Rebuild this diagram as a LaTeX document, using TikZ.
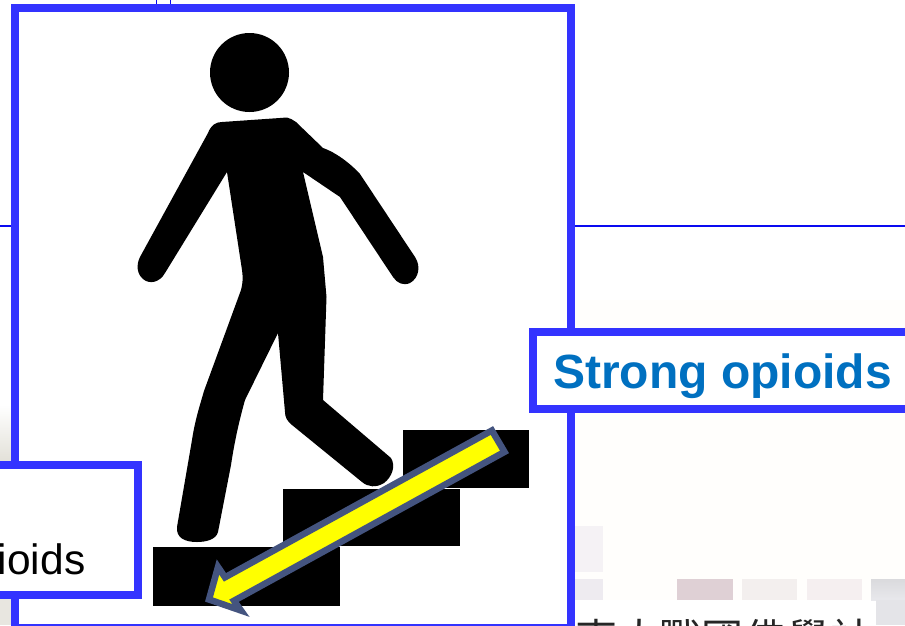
\documentclass[tikz,border=0pt]{standalone}
\usepackage{fontspec}
\setmainfont{Liberation Sans}
\newfontfamily\cjkfont{Noto Sans CJK TC}
\definecolor{boxblue}{HTML}{3333FF}
\definecolor{ruleblue}{HTML}{0A0AF0}
\definecolor{labelblue}{HTML}{0070C0}
\definecolor{arrowedge}{HTML}{44547F}
\definecolor{arrowfill}{HTML}{FFFF00}
\definecolor{cream}{HTML}{FFFEFC}
\definecolor{tintA}{HTML}{F5F2F5}
\definecolor{tintB}{HTML}{EEEBF0}
\definecolor{tintC}{HTML}{DFD0D5}
\definecolor{tintD}{HTML}{F3EFEE}
\definecolor{tintE}{HTML}{F5EFF0}
\definecolor{tintF}{HTML}{DADADD}
\definecolor{tintG}{HTML}{E8E8EC}
\definecolor{tintH}{HTML}{E4E4E8}
\definecolor{photoA}{HTML}{E2E0D8}
\definecolor{photoB}{HTML}{E8E6E0}
\tikzset{
  panel/.style={draw=boxblue,line width=8pt,fill=white,rectangle,inner sep=0pt,outer sep=0pt,anchor=north west},
  guide/.style={draw=ruleblue,line width=1.7pt},
  tick/.style={draw=ruleblue,line width=1pt},
  stair/.style={fill=black,draw=none},
  strong/.style={font=\fontsize{48}{48}\selectfont\bfseries,text=labelblue,anchor=base west,inner sep=0pt},
  weak/.style={font=\fontsize{42.5}{42.5}\selectfont,text=black,anchor=base east,inner sep=0pt},
  faded/.style={font=\fontsize{42}{42}\cjkfont,text=black!85,anchor=base west,inner sep=0pt}
}
\begin{document}
\begin{tikzpicture}[x=1pt,y=-1pt]
\useasboundingbox (0,0) rectangle (905,625);
\clip (0,0) rectangle (905,625);
% background remnants
\fill[white] (0,0) rectangle (905,625);
\fill[cream] (575,300) rectangle (905,600);
\fill[tintA] (575,526) rectangle (603,572);
\fill[tintB] (575,579) rectangle (603,600);
\fill[tintC] (677,579) rectangle (733,600);
\fill[tintD] (742,579) rectangle (797,600);
\fill[tintE] (807,579) rectangle (862,600);
\fill[white] (575,600) rectangle (876,625);
\shade[top color=tintF,bottom color=tintG] (871,579) rectangle (905,600);
\fill[tintH] (876,600) rectangle (905,625);
\shade[top color=white,bottom color=photoA] (0,405) rectangle (12,462);
\fill[photoB] (0,597) rectangle (12,625);
\node[faded] (ft1) at (575,654) {東};
\node[faded] (ft2) at (618,654) {大};
\node[faded] (ft3) at (659,654) {戰};
\node[faded] (ft4) at (701,654) {國};
\node[faded] (ft5) at (744,654) {佛};
\node[faded] (ft6) at (787,654) {學};
\node[faded] (ft7) at (830,654) {社};
% thin rules
\coordinate (ruleL) at (0,226);
\coordinate (ruleR) at (905,226);
\coordinate (ruleA) at (575,226);
\coordinate (ruleB) at (19,226);
\draw[guide] (ruleL) -- (ruleB);
\draw[guide] (ruleA) -- (ruleR);
\coordinate (tickA) at (156.5,0);
\coordinate (tickB) at (156.5,5);
\coordinate (tickC) at (170.5,0);
\coordinate (tickD) at (170.5,5);
\draw[tick] (tickA) -- (tickB);
\draw[tick] (tickC) -- (tickD);
% main panel
\node[panel,minimum width=556pt,minimum height=620pt] (main) at (15,8) {};
% stairs
\fill[stair] (153,547) rectangle (340,606);
\fill[stair] (283,489) rectangle (460,545.5);
\fill[stair] (402.5,430) rectangle (529,488);
% figure
\fill[black] (249.5,72.5) circle[radius=39.5];
\fill[black] (222,122) -- (287,117.5) .. controls (290,118) and (293,120) .. (296,122)
  -- (323,148) .. controls (335,152) and (350,163) .. (360,174)
  -- (415,257) .. controls (421,266) and (419,278) .. (410,283)
  .. controls (403,286) and (397,283) .. (393,277)
  -- (340,197) -- (303,172) -- (323,257)
  -- (326.5,297) -- (323,400) -- (391,458)
  .. controls (396,466) and (392,477) .. (384,483)
  .. controls (376,488) and (368,487) .. (362,482)
  -- (292,425) .. controls (287,421) and (285,417) .. (285,412)
  -- (278,333) -- (245,400) .. controls (238,425) and (234,445) .. (231,465)
  -- (218,532) .. controls (216,540) and (205,542) .. (197,542)
  .. controls (185,542) and (176,538) .. (177,527)
  -- (192,440) .. controls (195,420) and (200,405) .. (204,391)
  -- (241,290) .. controls (243,282) and (243,278) .. (242,270)
  -- (227,172) -- (165,273) .. controls (160,282) and (150,285) .. (143,279)
  .. controls (137,274) and (136,265) .. (140,257)
  -- (208,133) .. controls (211,125) and (216,122) .. (222,122) -- cycle;
% arrow
\draw[draw=arrowedge,fill=arrowfill,line width=6.5pt,miter limit=10,line join=miter]
  (491.9,430.5) -- (504.5,451.9) -- (234,600.7) -- (241,610.5) -- (209,599.5) -- (218,567) -- (225,577.3) -- cycle;
% label panels
\node[panel,minimum width=148pt,minimum height=129.5pt] (weakbox) at (-10,465) {};
\node[weak] (weaktext) at (85.5,574) {ioids};
\node[panel,minimum width=390pt,minimum height=77.5pt] (strongbox) at (533,331.5) {};
\node[strong] (strongtext) at (553,388) {Strong opioids};
\end{tikzpicture}
\end{document}
